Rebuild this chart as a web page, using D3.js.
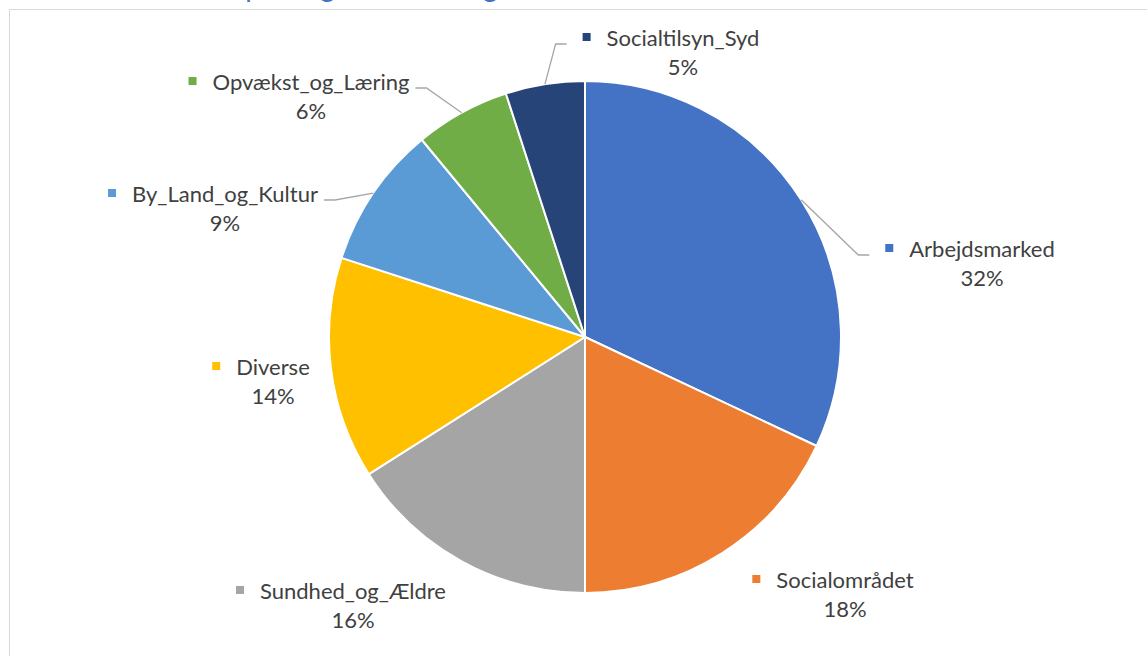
<!DOCTYPE html>
<html>
<head>
<meta charset="utf-8">
<script src="https://cdn.jsdelivr.net/npm/d3@7"></script>
<style>
  html, body { margin: 0; padding: 0; background: #fff; overflow: hidden; }
  svg { display: block; }
</style>
</head>
<body>
<svg id="chart" width="1147" height="656"></svg>
<script>
// Share of total per department (percent)
const categories = ["Arbejdsmarked", "Socialområdet", "Sundhed_og_Ældre", "Diverse",
                    "By_Land_og_Kultur", "Opvækst_og_Læring", "Socialtilsyn_Syd"];
const shares = [32, 18, 16, 14, 9, 6, 5];
const sliceColors = ["#4472C4", "#ED7D31", "#A5A5A5", "#FFC000", "#5B9BD5", "#70AD47", "#264478"];

// Label placement: centre of the name line, and which side a leader line attaches to
const labelLayout = [
  { cx: 982, cy: 250, leader: "left" },
  { cx: 845, cy: 581, leader: null },
  { cx: 353, cy: 592, leader: null },
  { cx: 273, cy: 368, leader: null },
  { cx: 225, cy: 195, leader: "right" },
  { cx: 311, cy: 83,  leader: "right" },
  { cx: 683, cy: 39,  leader: "left" }
];

const svg = d3.select("#chart");
const W = 1147, H = 656;
const cx = 585, cy = 337, R = 256;
const FONT = "Lato, 'Open Sans', sans-serif";
const FS = 22;
const textColor = "#404040";

// chart frame
svg.append("path")
  .attr("d", `M9.5,${H} V9.5 H${W}`)
  .attr("fill", "none")
  .attr("stroke", "#D9D9D9")
  .attr("stroke-width", 1);

// title (sits mostly above the visible area)
svg.append("text")
  .attr("x", 223).attr("y", -3)
  .attr("font-family", FONT)
  .attr("font-size", 28)
  .attr("word-spacing", 12)
  .attr("fill", "#4472C4")
  .text("Opdeling af bevillinger");

const data = categories.map((c, i) => ({ name: c, value: shares[i], color: sliceColors[i], layout: labelLayout[i] }));

const pie = d3.pie().value(d => d.value).sort(null);
const arcs = pie(data);
const arc = d3.arc().innerRadius(0).outerRadius(R);

const g = svg.append("g").attr("transform", `translate(${cx},${cy})`);
g.selectAll("path.slice")
  .data(arcs)
  .join("path")
  .attr("class", "slice")
  .attr("d", arc)
  .attr("fill", d => d.data.color)
  .attr("stroke", "#fff")
  .attr("stroke-width", 2)
  .attr("stroke-linejoin", "round");

// labels
const labels = svg.append("g");
arcs.forEach(a => {
  const L = a.data.layout;
  const name = labels.append("text")
    .attr("x", L.cx).attr("y", L.cy + 7)
    .attr("text-anchor", "middle")
    .attr("font-family", FONT).attr("font-size", FS)
    .attr("fill", textColor)
    .text(a.data.name);
  const w = name.node().getComputedTextLength();
  const left = L.cx - w / 2, right = L.cx + w / 2;
  labels.append("rect")
    .attr("x", left - 24).attr("y", L.cy - 6)
    .attr("width", 8).attr("height", 8)
    .attr("fill", a.data.color);
  labels.append("text")
    .attr("x", L.cx).attr("y", L.cy + 36)
    .attr("text-anchor", "middle")
    .attr("font-family", FONT).attr("font-size", FS)
    .attr("fill", textColor)
    .text(d3.format(".0%")(a.data.value / d3.sum(shares)));

  if (L.leader) {
    const mid = (a.startAngle + a.endAngle) / 2;
    const px = cx + R * Math.sin(mid), py = cy - R * Math.cos(mid);
    const ly = L.cy + 5;
    let x1, x2;
    if (L.leader === "left") { x2 = left - 40; x1 = x2 - 11; }
    else { x2 = right + 6; x1 = x2 + 11; }
    const pts = L.leader === "left"
      ? [[px, py], [x1, ly], [x2, ly]]
      : [[x2, ly], [x1, ly], [px, py]];
    labels.append("path")
      .attr("d", d3.line()(pts))
      .attr("fill", "none")
      .attr("stroke", "#A6A6A6")
      .attr("stroke-width", 1.3);
  }
});
</script>
</body>
</html>
